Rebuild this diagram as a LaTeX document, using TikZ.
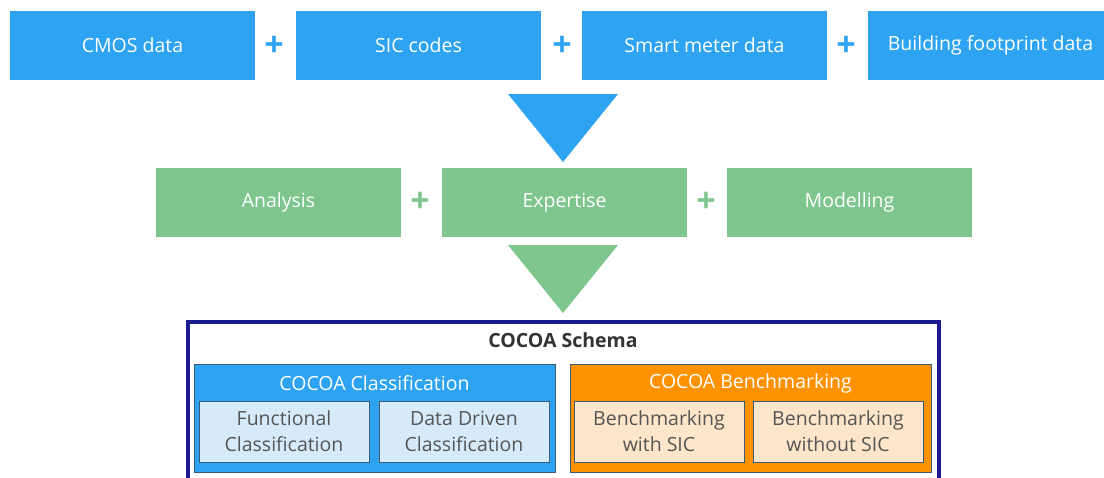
\documentclass[tikz,border=0pt]{standalone}
\usepackage{fontspec}
\setmainfont{Open Sans}
\definecolor{cblue}{HTML}{2EA3F2}
\definecolor{cgreen}{HTML}{7EC68E}
\definecolor{corange}{HTML}{FF9200}
\definecolor{cnavy}{HTML}{1B1B8F}
\definecolor{clblue}{HTML}{D6EBFA}
\definecolor{cpeach}{HTML}{FDE6C9}
\definecolor{csubline}{HTML}{3E5C7A}
\definecolor{ctext}{HTML}{555555}
\tikzset{
  box/.style={anchor=north west, inner sep=0pt, outer sep=0pt, text=white,
    font=\fontsize{19.5}{22}\selectfont},
  topbox/.style={box, fill=cblue, minimum width=245pt, minimum height=69pt},
  midbox/.style={box, fill=cgreen, minimum width=245pt, minimum height=69pt},
  plusb/.style={text=cblue, font=\bfseries\fontsize{34}{34}\selectfont, inner sep=0pt},
  plusg/.style={text=cgreen, font=\bfseries\fontsize{34}{34}\selectfont, inner sep=0pt},
  group/.style={anchor=north west, inner sep=0pt, outer sep=0pt, draw=csubline, line width=0.8pt,
    minimum width=361pt, minimum height=108pt},
  subbox/.style={anchor=north west, inner sep=0pt, outer sep=0pt, draw=csubline, line width=1pt,
    minimum width=170pt, minimum height=61pt, text=ctext, align=center,
    font=\fontsize{19.5}{26}\selectfont},
  grouptitle/.style={text=white, font=\fontsize{19.5}{22}\selectfont, inner sep=0pt}
}
\begin{document}
\begin{tikzpicture}[x=1pt,y=-1pt]
\useasboundingbox (0,0) rectangle (1104,477);
\clip (0,0) rectangle (1104,477);
% top row
\node[topbox] (cmos) at (10,11) {CMOS data};
\node[topbox] (sic) at (296,11) {SIC codes};
\node[topbox] (smart) at (582,11) {Smart meter data};
\node[topbox] (build) at (868,11) {Building footprint data};
\node[plusb] (p1) at (274,46) {+};
\node[plusb] (p2) at (562,46) {+};
\node[plusb] (p3) at (846,46) {+};
% blue triangle
\coordinate (bt1) at (508,94);
\coordinate (bt2) at (618,94);
\coordinate (bt3) at (563,162);
\fill[cblue] (bt1) -- (bt2) -- (bt3) -- cycle;
% middle row
\node[midbox] (ana) at (156,168) {Analysis};
\node[midbox] (exp) at (442,168) {Expertise};
\node[midbox] (mod) at (727,168) {Modelling};
\node[plusg] (p4) at (420,202) {+};
\node[plusg] (p5) at (706,202) {+};
% green triangle
\coordinate (gt1) at (508,245);
\coordinate (gt2) at (618,245);
\coordinate (gt3) at (563,313);
\fill[cgreen] (gt1) -- (gt2) -- (gt3) -- cycle;
% schema
\draw[cnavy, line width=4pt, fill=white] (188,322) rectangle (939,500);
\node[text=black!80, font=\bfseries\fontsize{19.5}{22}\selectfont] (schema) at (563,340) {COCOA Schema};
\node[group, fill=cblue] (cls) at (194,364) {};
\node[grouptitle] (clst) at (374.5,383) {COCOA Classification};
\node[subbox, fill=clblue] (fun) at (199,401) {Functional\\Classification};
\node[subbox, fill=clblue] (dd) at (379,401) {Data Driven\\Classification};
\node[group, fill=corange] (ben) at (570,364) {};
\node[grouptitle] (bent) at (750.5,383) {COCOA Benchmarking};
\node[subbox, fill=cpeach] (bw) at (574,401) {Benchmarking\\with SIC};
\node[subbox, fill=cpeach] (bwo) at (753,401) {Benchmarking\\without SIC};
\end{tikzpicture}
\end{document}
